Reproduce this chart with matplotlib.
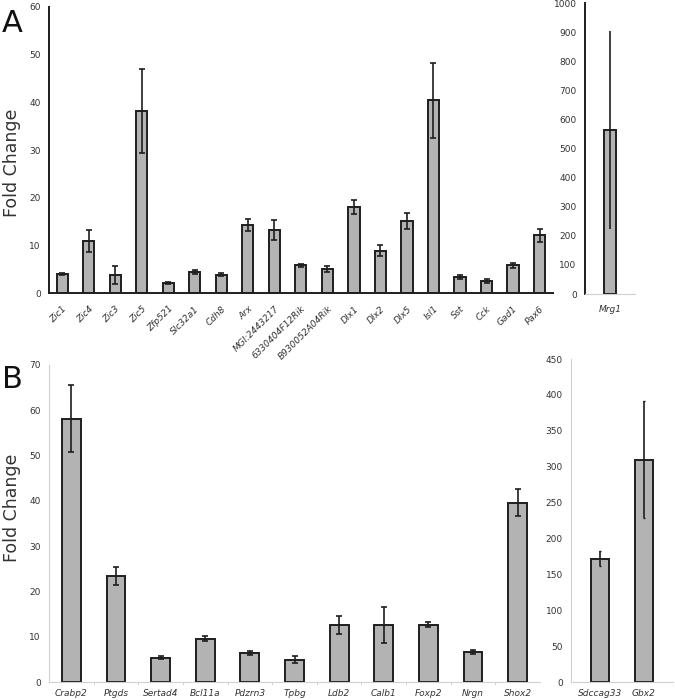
import numpy as np
import matplotlib
matplotlib.use("Agg")
import matplotlib.pyplot as plt

# Panel A - main
genes_a = ["Zic1", "Zic4", "Zic3", "Zic5", "Zfp521", "Slc32a1", "Cdh8", "Arx",
           "MGI:2443217", "6330404F12Rik", "B930052A04Rik", "Dlx1", "Dlx2",
           "Dlx5", "Isl1", "Sst", "Cck", "Gad1", "Pax6"]
fold_a = [4.05, 10.9, 3.8, 38.2, 2.1, 4.4, 3.8, 14.3, 13.3, 5.8, 5.0,
          18.0, 8.9, 15.1, 40.4, 3.4, 2.6, 5.8, 12.1]
err_a = [0.25, 2.3, 1.9, 8.8, 0.2, 0.5, 0.3, 1.3, 2.1, 0.3, 0.6,
         1.5, 1.1, 1.7, 7.8, 0.4, 0.4, 0.5, 1.4]

# Panel A - inset
genes_a2 = ["Mrg1"]
fold_a2 = [564]
err_a2 = [339]

# Panel B - main
genes_b = ["Crabp2", "Ptgds", "Sertad4", "Bcl11a", "Pdzrn3", "Tpbg", "Ldb2",
           "Calb1", "Foxp2", "Nrgn", "Shox2"]
fold_b = [58.1, 23.4, 5.4, 9.6, 6.4, 4.9, 12.5, 12.6, 12.6, 6.6, 39.6]
err_b = [7.4, 2.0, 0.3, 0.6, 0.4, 0.8, 2.0, 3.9, 0.55, 0.5, 3.0]

# Panel B - right
genes_b2 = ["Sdccag33", "Gbx2"]
fold_b2 = [171.5, 310]
err_b2 = [10.5, 82]

BAR = "#b3b3b3"
EDGE = "#1e1e1e"
LIGHT = "#d0d0d0"
TXT = "#333333"

fig = plt.figure(figsize=(6.75, 7), dpi=100)


def style(ax, bottom_col, left_col):
    for s in ["top", "right"]:
        ax.spines[s].set_visible(False)
    ax.spines["bottom"].set_color(bottom_col)
    ax.spines["left"].set_color(left_col)
    ax.tick_params(axis="y", length=0, labelsize=6.5, labelcolor=TXT, pad=6)
    ax.tick_params(axis="x", length=0, labelsize=6.5, labelcolor=TXT)


# ---- A main ----
ax1 = fig.add_axes([0.0726, 0.5814, 0.7464, 0.4086])
x = np.arange(len(genes_a))
ax1.bar(x, fold_a, width=0.42, color=BAR, edgecolor=EDGE, linewidth=1.4, zorder=2)
ax1.errorbar(x, fold_a, yerr=err_a, fmt="none", ecolor=EDGE, elinewidth=1.2,
             capsize=2.5, capthick=1.2, zorder=3)
ax1.set_xlim(-0.5, len(genes_a) - 0.5)
ax1.set_ylim(0, 60)
ax1.set_yticks(range(0, 61, 10))
ax1.set_xticks(x)
ax1.set_xticklabels(genes_a, rotation=45, ha="right", rotation_mode="anchor",
                    style="italic")
style(ax1, EDGE, EDGE)
ax1.spines["bottom"].set_linewidth(1.4)
ax1.spines["left"].set_linewidth(1.4)
ax1.tick_params(axis="x", pad=8)

# ---- A inset ----
ax2 = fig.add_axes([0.8667, 0.58, 0.074, 0.4157])
ax2.bar([0], fold_a2, width=0.26, color=BAR, edgecolor=EDGE, linewidth=1.4, zorder=2)
ax2.errorbar([0], fold_a2, yerr=err_a2, fmt="none", ecolor=EDGE, elinewidth=1.2,
             capsize=0, zorder=3)
ax2.set_xlim(-0.5, 0.5)
ax2.set_ylim(0, 1000)
ax2.set_yticks(range(0, 1001, 100))
ax2.set_xticks([0])
ax2.set_xticklabels(genes_a2, style="italic")
style(ax2, LIGHT, EDGE)
ax2.spines["left"].set_linewidth(1.4)
ax2.tick_params(axis="x", pad=8)

# ---- B main ----
ax3 = fig.add_axes([0.0726, 0.0257, 0.7274, 0.4529])
xb = np.arange(len(genes_b))
ax3.bar(xb, fold_b, width=0.42, color=BAR, edgecolor=EDGE, linewidth=1.4, zorder=2)
ax3.errorbar(xb, fold_b, yerr=err_b, fmt="none", ecolor=EDGE, elinewidth=1.2,
             capsize=2.5, capthick=1.2, zorder=3)
ax3.set_xlim(-0.5, len(genes_b) - 0.5)
ax3.set_ylim(0, 70)
ax3.set_yticks(range(0, 71, 10))
ax3.set_xticks(xb)
ax3.set_xticklabels(genes_b, style="italic")
style(ax3, LIGHT, LIGHT)
ax3.set_xticks(xb[:-1] + 0.5, minor=True)
ax3.tick_params(axis="x", which="minor", length=2.5, color=LIGHT)
ax3.tick_params(axis="x", pad=5)

# ---- B right ----
ax4 = fig.add_axes([0.846, 0.0257, 0.151, 0.4614])
xb2 = np.arange(len(genes_b2))
ax4.bar(xb2, fold_b2, width=0.41, color=BAR, edgecolor=EDGE, linewidth=1.4, zorder=2)
ax4.errorbar(xb2, fold_b2, yerr=err_b2, fmt="none", ecolor=EDGE, elinewidth=1.2,
             capsize=1, capthick=1.0, zorder=3)
ax4.set_xlim(-0.66, 1.66)
ax4.set_ylim(0, 450)
ax4.set_yticks(range(0, 451, 50))
ax4.set_xticks(xb2)
ax4.set_xticklabels(genes_b2, style="italic")
style(ax4, LIGHT, LIGHT)
ax4.tick_params(axis="x", pad=5)

# y labels and panel letters
fig.text(0.018, 1 - 163 / 700, "Fold Change", fontsize=12.5, color=TXT,
         rotation=90, ha="center", va="center")
fig.text(0.018, 1 - 508 / 700, "Fold Change", fontsize=12.5, color=TXT,
         rotation=90, ha="center", va="center")
fig.text(0.003, 0.955, "A", fontsize=22, color="#111111")
fig.text(0.003, 0.445, "B", fontsize=22, color="#111111")

fig.savefig("out.png", dpi=100)
